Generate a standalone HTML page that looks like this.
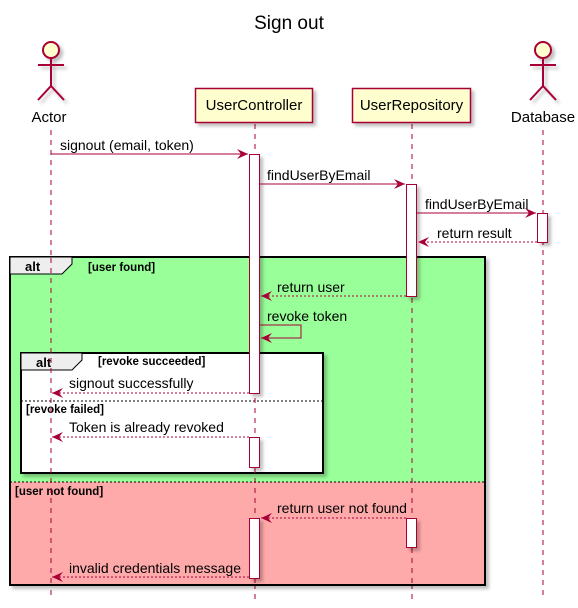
<!DOCTYPE html>
<html><head><meta charset="utf-8"><style>
html,body{margin:0;padding:0;background:#fff;}
svg{display:block;font-family:"Liberation Sans","DejaVu Sans",sans-serif;}
</style></head><body>
<svg width="578" height="608" viewBox="0 0 578 608" xmlns="http://www.w3.org/2000/svg">
<defs>
<filter id="sh" x="-20%" y="-20%" width="140%" height="140%"><feDropShadow dx="3" dy="3" stdDeviation="1.5" flood-color="#000" flood-opacity="0.25"/></filter>
<marker id="ah" markerWidth="12" markerHeight="10" refX="11" refY="5" orient="auto" markerUnits="userSpaceOnUse"><path d="M0,0 L11,5 L0,10 L4,5 Z" fill="#A80036"/></marker>
</defs>
<text x="289" y="29" font-size="19" text-anchor="middle" fill="#000">Sign out</text>

<g stroke="#A80036" stroke-width="1" stroke-dasharray="5,5">
<line x1="51" y1="130" x2="51" y2="600"/>
<line x1="255" y1="124" x2="255" y2="600"/>
<line x1="412" y1="124" x2="412" y2="600"/>
<line x1="543" y1="130" x2="543" y2="600"/>
</g>

<g stroke="#A80036" stroke-width="2" fill="#FEFECE" filter="url(#sh)">
<circle cx="51" cy="50" r="8"/>
<line x1="51" y1="58" x2="51" y2="86"/>
<line x1="38" y1="65" x2="64" y2="65"/>
<polyline points="38,100 51,86 64,100" fill="none"/>
<circle cx="543" cy="50" r="8"/>
<line x1="543" y1="58" x2="543" y2="86"/>
<line x1="530" y1="65" x2="556" y2="65"/>
<polyline points="530,100 543,86 556,100" fill="none"/>
</g>
<text x="49" y="122" font-size="15" text-anchor="middle">Actor</text>
<text x="543" y="122" font-size="15" text-anchor="middle">Database</text>

<g fill="#FEFECE" stroke="#A80036" stroke-width="1.5" filter="url(#sh)">
<rect x="195.5" y="88.5" width="117" height="34"/>
<rect x="352.5" y="88.5" width="118" height="34"/>
</g>
<text x="254" y="110" font-size="15" text-anchor="middle">UserController</text>
<text x="411.5" y="110" font-size="15" text-anchor="middle">UserRepository</text>

<g filter="url(#sh)">
<rect x="10" y="257" width="475" height="225" fill="#99FF99"/>
<rect x="10" y="482" width="475" height="103" fill="#FFAAAA"/>
<rect x="10" y="257" width="475" height="328" fill="none" stroke="#000" stroke-width="2"/>
</g>
<path d="M10,257 L72,257 L72,264 L62,274 L10,274 Z" fill="#EEEEEE" stroke="#000" stroke-width="1"/>
<text x="25" y="271" font-size="13" font-weight="bold">alt</text>
<text x="88" y="271" font-size="11.5" font-weight="bold">[user found]</text>
<line x1="10" y1="482" x2="485" y2="482" stroke="#000" stroke-dasharray="2,2"/>
<text x="15" y="495" font-size="11.5" font-weight="bold">[user not found]</text>

<g filter="url(#sh)">
<rect x="21" y="353" width="302" height="120" fill="#fff" stroke="#000" stroke-width="2"/>
</g>
<path d="M21,353 L82,353 L82,360 L72,370 L21,370 Z" fill="#EEEEEE" stroke="#000" stroke-width="1"/>
<text x="36" y="367" font-size="13" font-weight="bold">alt</text>
<text x="98" y="365" font-size="11.5" font-weight="bold">[revoke succeeded]</text>
<line x1="21" y1="401" x2="323" y2="401" stroke="#000" stroke-dasharray="2,2"/>
<text x="26" y="413" font-size="11.5" font-weight="bold">[revoke failed]</text>

<g stroke="#A80036" stroke-width="1" stroke-dasharray="5,5">
<line x1="51" y1="258" x2="51" y2="584"/>
<line x1="255" y1="258" x2="255" y2="584"/>
<line x1="412" y1="258" x2="412" y2="584"/>
</g>

<g fill="#fff" stroke="#A80036" stroke-width="1" filter="url(#sh)">
<rect x="249.5" y="154.5" width="10" height="239"/>
<rect x="406.5" y="184.5" width="10" height="112"/>
<rect x="537.5" y="213.5" width="10" height="29"/>
<rect x="249.5" y="437.5" width="10" height="30"/>
<rect x="249.5" y="518.5" width="10" height="60"/>
<rect x="406.5" y="518.5" width="10" height="29"/>
</g>

<g stroke="#A80036" stroke-width="1" fill="none" marker-end="url(#ah)">
<line x1="51" y1="154" x2="248" y2="154"/>
<line x1="260" y1="184" x2="405" y2="184"/>
<line x1="417" y1="213" x2="536" y2="213"/>
<line x1="537" y1="242" x2="418" y2="242" stroke-dasharray="2,2"/>
<line x1="406" y1="296" x2="261" y2="296" stroke-dasharray="2,2"/>
<polyline points="260,325 301,325 301,338 261,338"/>
<line x1="249" y1="393" x2="52" y2="393" stroke-dasharray="2,2"/>
<line x1="249" y1="437" x2="52" y2="437" stroke-dasharray="2,2"/>
<line x1="406" y1="518" x2="261" y2="518" stroke-dasharray="2,2"/>
<line x1="249" y1="577" x2="52" y2="577" stroke-dasharray="2,2"/>
</g>
<g font-size="14" fill="#000">
<text x="60" y="150">signout (email, token)</text>
<text x="267" y="180">findUserByEmail</text>
<text x="425" y="209">findUserByEmail</text>
<text x="437" y="238">return result</text>
<text x="277" y="292">return user</text>
<text x="267" y="321">revoke token</text>
<text x="69" y="388">signout successfully</text>
<text x="69" y="432">Token is already revoked</text>
<text x="277" y="513">return user not found</text>
<text x="69" y="573">invalid credentials message</text>
</g>
</svg>
</body></html>
